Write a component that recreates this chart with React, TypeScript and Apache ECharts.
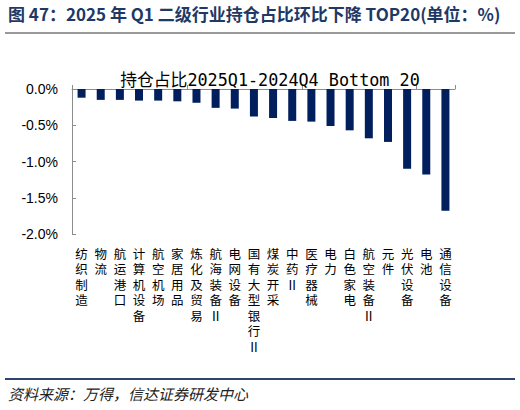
import React, { useEffect, useRef } from "react";
import * as echarts from "echarts";

const categories = [
  "纺织制造", "物流", "航运港口", "计算机设备", "航空机场", "家居用品", "炼化及贸易",
  "航海装备Ⅱ", "电网设备", "国有大型银行Ⅱ", "煤炭开采", "中药Ⅱ", "医疗器械", "电力",
  "白色家电", "航空装备Ⅱ", "元件", "光伏设备", "电池", "通信设备",
];
const values = [
  -0.12, -0.15, -0.15, -0.16, -0.16, -0.17, -0.19, -0.26, -0.27, -0.38,
  -0.40, -0.44, -0.45, -0.51, -0.57, -0.68, -0.73, -1.10, -1.18, -1.68,
];
const headerText = "图 47：2025 年 Q1 二级行业持仓占比环比下降 TOP20(单位：%)";
const chartTitle = "持仓占比2025Q1-2024Q4 Bottom 20";
const sourceText = "资料来源：万得，信达证券研发中心";

export default function App() {
  const ref = useRef<HTMLDivElement>(null);
  useEffect(() => {
    if (!ref.current) return;
    const chart = echarts.init(ref.current, undefined, { renderer: "svg" });
    const cjk = "'Noto Sans CJK SC', sans-serif";
    chart.setOption({
      animation: false,
      backgroundColor: "#ffffff",
      graphic: [
        {
          type: "text",
          left: 8,
          top: 5,
          style: {
            text: headerText,
            font: `bold 17px ${cjk}`,
            fill: "#1f3864",
          },
        },
        {
          type: "rect",
          shape: { x: 5, y: 32, width: 510, height: 2 },
          style: { fill: "#9a9a9a" },
        },
        {
          type: "rect",
          shape: { x: 5, y: 378, width: 510, height: 2 },
          style: { fill: "#2e4470" },
        },
        {
          type: "text",
          left: 8,
          top: 386,
          style: {
            text: sourceText,
            font: `italic 15px ${cjk}`,
            fill: "#222222",
          },
        },
      ],
      title: {
        text: chartTitle,
        left: 265,
        textAlign: "center",
        top: 67,
        textStyle: {
          fontFamily: "'DejaVu Sans Mono', 'Noto Sans CJK SC', monospace",
          fontSize: 16.8,
          fontWeight: "normal",
          color: "#000000",
        },
      },
      grid: { left: 72, right: 65, top: 89, bottom: 176, containLabel: false },
      xAxis: [
        {
          type: "category",
          data: categories,
          position: "top",
          axisLine: { show: true, onZero: false, lineStyle: { color: "#8c8c8c", width: 1 } },
          axisTick: { show: true, length: 4, lineStyle: { color: "#8c8c8c" } },
          axisLabel: { show: false },
          splitLine: { show: false },
        },
        {
          type: "category",
          data: categories,
          position: "bottom",
          axisLine: { show: false },
          axisTick: { show: false },
          axisLabel: {
            show: true,
            interval: 0,
            margin: 13,
            verticalAlign: "top",
            fontFamily: "'Liberation Sans', 'Noto Sans CJK SC', sans-serif",
            fontSize: 12.5,
            lineHeight: 15.5,
            color: "#000000",
            formatter: (v: string) => Array.from(v).join("\n"),
          },
          splitLine: { show: false },
        },
      ],
      yAxis: {
        type: "value",
        min: -2,
        max: 0,
        interval: 0.5,
        axisLine: { show: true, lineStyle: { color: "#8c8c8c", width: 1 } },
        axisTick: { show: true, inside: true, length: 4, lineStyle: { color: "#8c8c8c" } },
        splitLine: { show: false },
        axisLabel: {
          margin: 14,
          fontFamily: "'Liberation Sans', Arial, sans-serif",
          fontSize: 14,
          color: "#000000",
          formatter: (v: number) => v.toFixed(1) + "%",
        },
      },
      series: [
        {
          type: "bar",
          xAxisIndex: 0,
          data: values,
          barWidth: 8,
          itemStyle: { color: "#001f5c" },
        },
      ],
    });
    return () => chart.dispose();
  }, []);
  return (
    <div
      ref={ref}
      style={{ position: "fixed", left: 0, top: 0, width: 520, height: 410 }}
    />
  );
}
